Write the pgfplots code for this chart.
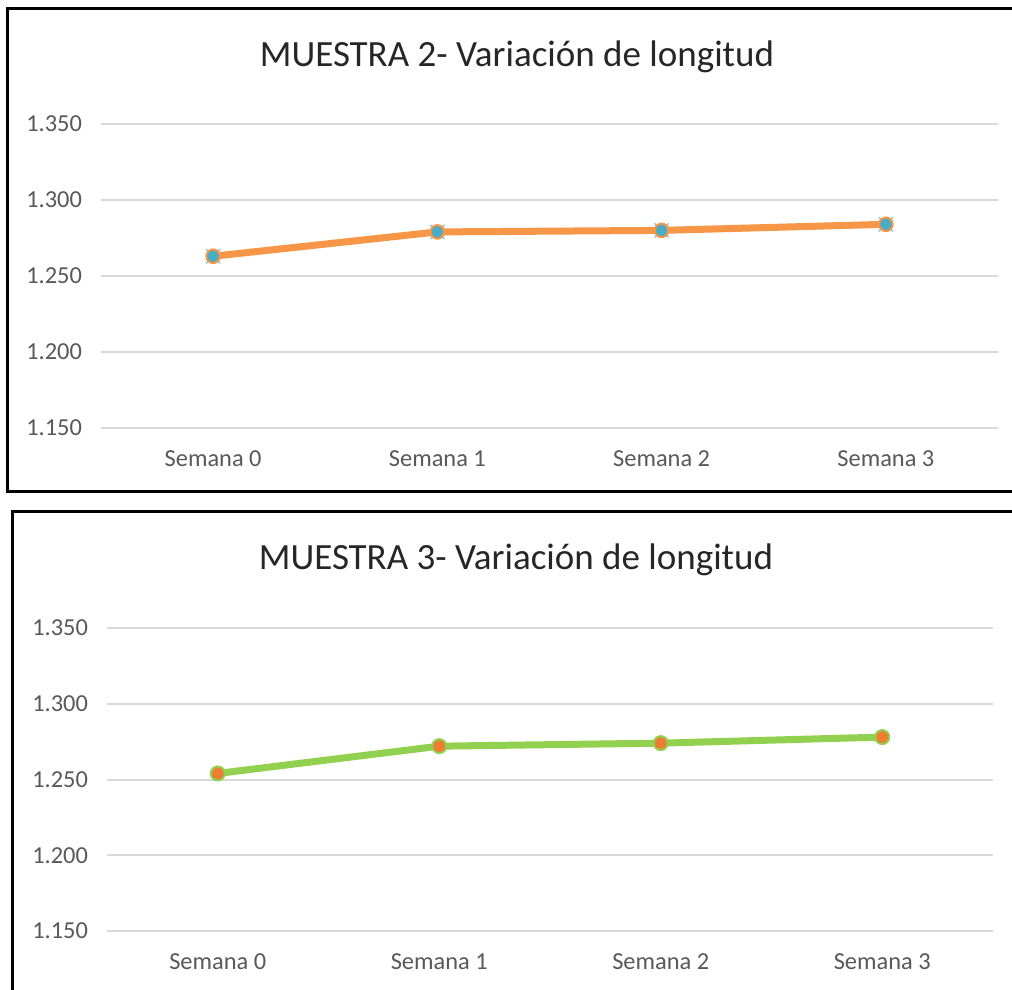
\documentclass[border=0pt]{standalone}
\usepackage{pgfplots}
\pgfplotsset{compat=1.18}
\usepackage{fontspec}
\setmainfont{Carlito}
\definecolor{gridc}{HTML}{D9D9D9}
\definecolor{tickc}{HTML}{595959}
\definecolor{titc}{HTML}{262626}
\definecolor{orangeL}{HTML}{F79646}
\definecolor{blueM}{HTML}{4BACC6}
\definecolor{greenL}{HTML}{92D050}
\definecolor{orangeM}{HTML}{ED7D31}
\pgfplotsset{
  mystyle/.style={
    scale only axis,
    xmin=-0.5, xmax=3.5,
    ymin=1.15, ymax=1.35,
    xtick={0,1,2,3},
    xticklabels={Semana 0,Semana 1,Semana 2,Semana 3},
    ytick={1.15,1.2,1.25,1.3,1.35},
    yticklabels={1.150,1.200,1.250,1.300,1.350},
    axis line style={draw=none},
    major tick length=0pt,
    ymajorgrids,
    grid style={gridc, line width=1pt},
    tick label style={font=\fontsize{12.2}{14}\selectfont, text=tickc},
    yticklabel style={xshift=-6pt},
    xticklabel style={yshift=-8pt},
    clip=false,
  }
}
\begin{document}
\begin{tikzpicture}
\useasboundingbox (0,0) rectangle (506pt,-495pt);
\fill[white] (0,0) rectangle (506pt,-495pt);
\draw[line width=1.5pt] (510pt,-4.5pt) -- (3.5pt,-4.5pt) -- (3.5pt,-245.5pt) -- (510pt,-245.5pt);
\draw[line width=1.5pt] (510pt,-255.5pt) -- (6pt,-255.5pt) -- (6pt,-500pt);
\node[text=titc, font=\fontsize{18.5}{22}\selectfont] at (258.5pt,-28.5pt) {MUESTRA 2- Variación de longitud};
\node[text=titc, font=\fontsize{18.5}{22}\selectfont] at (258pt,-280pt) {MUESTRA 3- Variación de longitud};
\begin{axis}[mystyle, at={(50.5pt,-214pt)}, anchor=south west, width=448.5pt, height=152pt]
\addplot[orangeL, line width=3.5pt, mark=x, mark size=5pt, mark options={draw=blueM!55, line width=0.9pt}] coordinates {(0,1.263) (1,1.279) (2,1.280) (3,1.284)};
\addplot[draw=none, mark=*, mark size=3.4pt, mark options={fill=blueM, draw=orangeL, line width=1pt}] coordinates {(0,1.263) (1,1.279) (2,1.280) (3,1.284)};
\end{axis}
\begin{axis}[mystyle, at={(53.5pt,-465.5pt)}, anchor=south west, width=443pt, height=151.5pt]
\addplot[greenL, line width=3.5pt, mark=*, mark size=3.5pt, mark options={fill=orangeM, draw=greenL, line width=1pt}] coordinates {(0,1.254) (1,1.272) (2,1.274) (3,1.278)};
\end{axis}
\end{tikzpicture}
\end{document}
